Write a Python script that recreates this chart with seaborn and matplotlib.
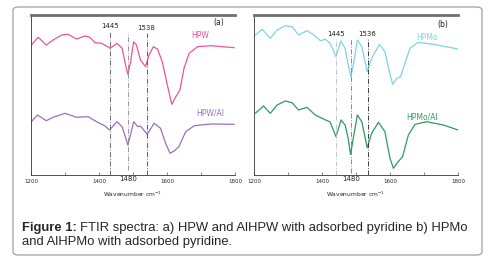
import numpy as np
import pandas as pd
import matplotlib
matplotlib.use('Agg')
import matplotlib.pyplot as plt
import seaborn as sns
from matplotlib.patches import FancyBboxPatch

# panel (a) spectra, y = relative transmittance (arbitrary units)
hpw_x = [1201, 1221, 1245, 1265, 1290, 1309, 1334, 1359, 1373, 1388, 1408, 1425, 1433, 1453,
         1468, 1478, 1485, 1493, 1502, 1510, 1522, 1537, 1547, 1560, 1572, 1586, 1601, 1614,
         1626, 1638, 1650, 1665, 1690, 1729, 1798]
hpw_y = [130, 137.7, 130, 135, 140, 140.7, 136, 139, 137.7, 132.3, 131.7, 128.3, 126.7, 131.7,
         126.7, 110, 100.7, 113.3, 133.3, 130, 115, 108.3, 120, 128.3, 126, 113.3, 90, 70.7,
         78.3, 85, 106.7, 121.7, 128.3, 129.3, 127.3]

hpwal_x = [1201, 1219, 1245, 1265, 1300, 1334, 1368, 1393, 1418, 1431, 1453, 1468, 1485, 1502,
           1514, 1522, 1542, 1562, 1581, 1596, 1609, 1621, 1635, 1655, 1680, 1729, 1798]
hpwal_y = [53.3, 60, 54.3, 57.7, 61.7, 57.7, 58.3, 53.3, 49, 45, 53.3, 48.3, 30, 53.3,
           48.3, 49, 40.7, 51.7, 46.7, 31.7, 21.7, 24, 28.3, 43.3, 49.3, 51, 50.7]

# panel (b) spectra
hpmo_x = [1204, 1224, 1248, 1268, 1292, 1312, 1331, 1356, 1376, 1395, 1410, 1424, 1441, 1455,
          1468, 1477, 1485, 1494, 1504, 1517, 1533, 1546, 1569, 1585, 1598, 1608, 1620, 1631,
          1644, 1659, 1683, 1727, 1800]
hpmo_y = [140, 145.7, 136.7, 145, 149.3, 148.3, 140, 144.3, 140, 134.3, 135.7, 131.7, 118.3, 134,
          126.7, 110, 98.3, 113.3, 135, 128.3, 103.3, 116.7, 130.7, 123.3, 103.3, 90.7, 96.7, 98.3,
          111.7, 126.7, 132.7, 130.7, 126]

hpmoal_x = [1204, 1228, 1248, 1268, 1292, 1312, 1331, 1356, 1380, 1400, 1424, 1441, 1456, 1468,
            1477, 1484, 1492, 1504, 1517, 1533, 1546, 1566, 1585, 1600, 1610, 1624, 1637, 1654,
            1674, 1708, 1757, 1800]
hpmoal_y = [61.7, 69, 61.7, 70, 74, 72.3, 65, 67.7, 60, 56.7, 53, 38.3, 55, 50,
            36.7, 20.7, 36.7, 60, 53.3, 27.3, 41.7, 52.7, 43.3, 16.7, 6.7, 13.3, 18.3, 40,
            50.7, 53.3, 50, 45]

# marker lines: position drawn / label text
lines_a = [1432, 1485, 1540]
labels_a = ['1445', '1480', '1538']
lines_b = [1441, 1485, 1534]
labels_b = ['1445', '1480', '1536']

sns.set_style('white')
plt.rcParams['font.family'] = ['DejaVu Sans']

fig = plt.figure(figsize=(4.98, 2.59), dpi=100)
W, H = 498.0, 259.0

frame = FancyBboxPatch((13 / W, 4 / H), 469 / W, 248 / H,
                       boxstyle='round,pad=0,rounding_size=0.012',
                       transform=fig.transFigure, fill=False, ec='#a0a0a0', lw=0.9)
fig.patches.append(frame)


def draw_panel(left, top_df, bot_df, colors, names, name_pos, tag, lines, labels, line_styles):
    ax = fig.add_axes([left / W, 1 - 175 / H, 204 / W, 160 / H])
    sns.lineplot(x='x', y='y', data=top_df, color=colors[0], lw=0.9, ax=ax)
    sns.lineplot(x='x', y='y', data=bot_df, color=colors[1], lw=0.9, ax=ax)
    ax.set_xlim(1200, 1800)
    ax.set_ylim(0, 160)
    ax.set_yticks([])
    ax.set_xticks([1200, 1400, 1600, 1800])
    ax.set_xticks([1300, 1500, 1700], minor=True)
    ax.tick_params(axis='x', which='both', direction='in', length=2, width=0.5,
                   labelsize=4, pad=3, bottom=True, color='#555555')
    ax.set_xlabel('Wavenumber cm$^{-1}$', fontsize=4.3, labelpad=4)
    ax.set_ylabel('')
    for s in ['left', 'bottom']:
        ax.spines[s].set_color('#333333')
        ax.spines[s].set_linewidth(0.6)
    ax.spines['right'].set_visible(False)
    ax.spines['top'].set_color('#6f6f6f')
    ax.spines['top'].set_linewidth(2.0)
    for (xv, lab, (c, y0, y1), i) in zip(lines, labels, line_styles, range(3)):
        ax.plot([xv, xv], [y0, y1], color=c, lw=0.6, ls=(0, (6, 2, 1, 2)))
        if i == 1:
            ax.text(xv, -1, lab, fontsize=5, ha='center', va='top', color='#222222')
        else:
            ax.text(xv, y1 + 2, lab, fontsize=5, ha='center', va='bottom', color='#222222')
    ax.text(name_pos[0][0], name_pos[0][1], names[0], color=colors[0], fontsize=5.5, ha='center')
    ax.text(name_pos[1][0], name_pos[1][1], names[1], color=colors[1], fontsize=5.5, ha='center')
    ax.text(tag[0], tag[1], tag[2], fontsize=5.5, ha='center', color='#222222')
    return ax


df_hpw = pd.DataFrame({'x': hpw_x, 'y': hpw_y})
df_hpwal = pd.DataFrame({'x': hpwal_x, 'y': hpwal_y})
df_hpmo = pd.DataFrame({'x': hpmo_x, 'y': hpmo_y})
df_hpmoal = pd.DataFrame({'x': hpmoal_x, 'y': hpmoal_y})

draw_panel(31, df_hpw, df_hpwal, ['#e8559e', '#9b6fc0'], ['HPW', 'HPW/Al'],
           [(1697, 137), (1726, 59)], (1753, 150, '(a)'), lines_a, labels_a,
           [('#555555', 0, 144), ('#888888', 5, 142), ('#444444', 0, 142)])
draw_panel(254, df_hpmo, df_hpmoal, ['#7fd3e6', '#2f9a60'], ['HPMo', 'HPMo/Al'],
           [(1709, 135), (1695, 55)], (1756, 148, '(b)'), lines_b, labels_b,
           [('#bbbbbb', 0, 136), ('#777777', 2, 136), ('#222222', 0, 136)])

t1 = fig.text(22 / W, 1 - 231.5 / H, 'Figure 1:', fontsize=9.4, fontweight='bold',
              family='Liberation Sans', va='baseline')
fig.canvas.draw()
bb = t1.get_window_extent()
fig.text(bb.x1 / W + 3 / W, 1 - 231.5 / H,
         'FTIR spectra: a) HPW and AlHPW with adsorbed pyridine b) HPMo',
         fontsize=9.4, family='Liberation Sans', va='baseline')
fig.text(22 / W, 1 - 245.5 / H, 'and AlHPMo with adsorbed pyridine.',
         fontsize=9.4, family='Liberation Sans', va='baseline')

fig.savefig('out.png', dpi=100)
